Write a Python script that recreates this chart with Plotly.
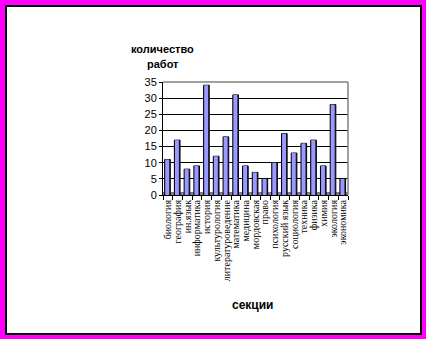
import plotly.graph_objects as go

categories = ["биология", "география", "ин.язык", "информатика", "история",
              "культурология", "литературоведение", "математика", "медицина",
              "мордовская", "право", "психология", "русский язык", "социология",
              "техника", "физика", "химия", "экология", "экономика"]
values = [11, 17, 8, 9, 34, 12, 18, 31, 9, 7, 5, 10, 19, 13, 16, 17, 9, 28, 5]
y_ticks = [0, 5, 10, 15, 20, 25, 30, 35]

W, H = 426, 339
L, R, T, B = 163, 348, 82, 195

def px_x(p):
    return (p - L) / (R - L)

def px_y(p):
    return (B - p) / (B - T)

fig = go.Figure()
# dark back (3D side / top)
fig.add_trace(go.Bar(
    x=categories, y=values,
    marker=dict(color="#222244", line=dict(color="black", width=1)),
    width=0.58, offset=-0.33, hoverinfo="skip",
))
# blue front face
fig.add_trace(go.Bar(
    x=categories, y=values,
    marker=dict(color="#9999FF", line=dict(width=0)),
    width=0.4, offset=-0.27,
))

shapes = [
    dict(type="rect", xref="paper", yref="paper",
         x0=px_x(6), x1=px_x(421), y0=px_y(6), y1=px_y(334),
         fillcolor="white", line=dict(color="black", width=2), layer="below"),
    dict(type="rect", xref="paper", yref="y", x0=0, x1=1, y0=0, y1=0.9,
         fillcolor="#808080", line=dict(width=0), layer="below"),
    dict(type="line", xref="paper", yref="paper", x0=0, x1=1, y0=1, y1=1,
         line=dict(color="#808080", width=1.5)),
    dict(type="line", xref="paper", yref="paper", x0=1, x1=1, y0=0, y1=1,
         line=dict(color="#808080", width=1.5)),
]

annotations = [
    dict(text="<b>количество</b>", xref="paper", yref="paper",
         x=px_x(162), y=px_y(49), xanchor="center", yanchor="middle", showarrow=False,
         font=dict(family="Liberation Sans", size=11, color="black")),
    dict(text="<b>работ</b>", xref="paper", yref="paper",
         x=px_x(163), y=px_y(64), xanchor="center", yanchor="middle", showarrow=False,
         font=dict(family="Liberation Sans", size=11, color="black")),
    dict(text="<b>секции</b>", xref="paper", yref="paper",
         x=px_x(252), y=px_y(305), xanchor="center", yanchor="middle", showarrow=False,
         font=dict(family="Liberation Sans", size=12, color="black")),
]

fig.update_layout(
    width=W, height=H,
    margin=dict(l=L, r=W - R, t=T, b=H - B, pad=0),
    paper_bgcolor="#FF00FF", plot_bgcolor="rgba(0,0,0,0)",
    showlegend=False, barmode="overlay",
    shapes=shapes, annotations=annotations,
    xaxis=dict(tickmode="array", tickvals=categories, ticktext=categories,
               tickangle=-90, tickfont=dict(family="Liberation Serif", size=10, color="black"),
               showline=True, linecolor="black", linewidth=1,
               ticks="outside", ticklen=4, tickcolor="black", tickson="boundaries",
               showgrid=False, range=[-0.5, 18.5]),
    yaxis=dict(range=[0, 35], tickvals=y_ticks,
               tickfont=dict(family="Liberation Sans", size=11, color="black"),
               showline=True, linecolor="black", linewidth=1,
               ticks="outside", ticklen=3, tickcolor="black",
               showgrid=True, gridcolor="black", gridwidth=1, zeroline=False),
)

fig.write_html("out.html")
